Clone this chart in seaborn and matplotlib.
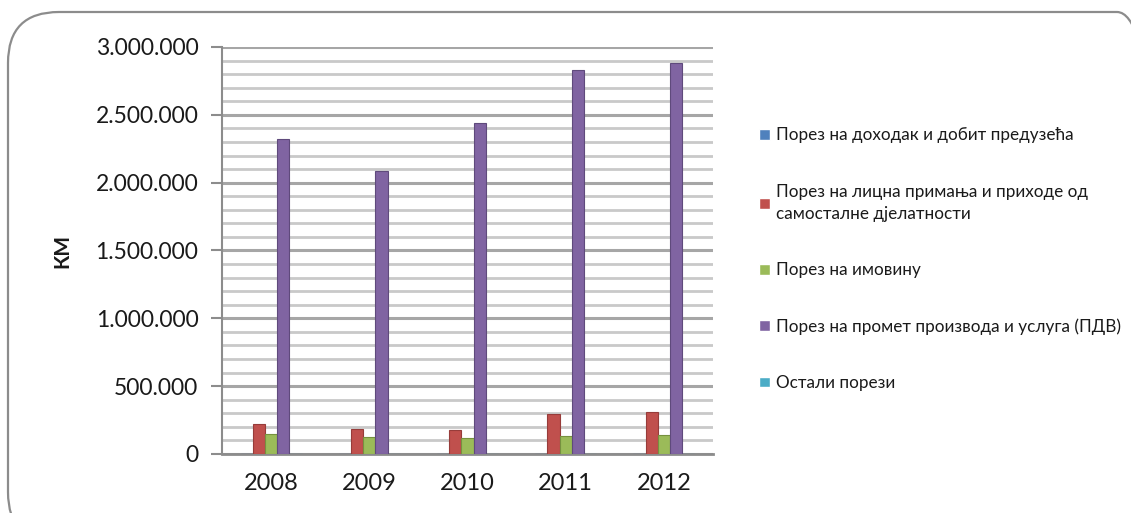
import matplotlib
matplotlib.use("Agg")
import matplotlib.pyplot as plt
import matplotlib.ticker as mticker
from matplotlib.patches import FancyBboxPatch
import seaborn as sns
import pandas as pd

years = ["2008", "2009", "2010", "2011", "2012"]
series = [
    "Порез на доходак и добит предузећа",
    "Порез на лицна примања и приходе од\nсамосталне дјелатности",
    "Порез на имовину",
    "Порез на промет производа и услуга (ПДВ)",
    "Остали порези",
]
income_tax = [0, 0, 0, 0, 0]
personal_tax = [218000, 182000, 180000, 292000, 306000]
property_tax = [145000, 126000, 120000, 133000, 140000]
vat = [2322000, 2084000, 2442000, 2828000, 2884000]
other_tax = [0, 0, 0, 0, 0]
colors = ["#4F81BD", "#C0504D", "#9BBB59", "#8064A2", "#4BACC6"]
edge_colors = ["#3a6494", "#973c3a", "#76913f", "#5f4a7c", "#3a8aa0"]

values = [income_tax, personal_tax, property_tax, vat, other_tax]
rows = []
for s, vals in zip(series, values):
    for y, v in zip(years, vals):
        rows.append({"year": y, "series": s, "value": v})
df = pd.DataFrame(rows)

sns.set_style("white")
plt.rcParams["font.family"] = ["Lato", "DejaVu Sans"]

fig = plt.figure(figsize=(11.31, 5.13), dpi=100)
W, H = 1131, 513

# rounded frame
frame = FancyBboxPatch((8 / W, -30 / H), 1160 / W, 531 / H,
                       boxstyle="round,pad=0,rounding_size=0.045",
                       transform=fig.transFigure, facecolor="none",
                       edgecolor="#8c8c8c", linewidth=1.6, zorder=-5,
                       mutation_aspect=W / H)
fig.patches.append(frame)

ax = fig.add_axes([222 / W, (513 - 454) / H, 491 / W, 407 / H])
ax.set_facecolor("none")
ax.set_zorder(2)

sns.barplot(data=df, x="year", y="value", hue="series", palette=colors,
            width=0.62, ax=ax, legend=True, saturation=1, zorder=3)

for cont, ec in zip(ax.containers, edge_colors):
    for bar in cont:
        bar.set_edgecolor(ec)
        bar.set_linewidth(0.8)

ax.set_ylim(0, 3000000)
ax.yaxis.set_major_locator(mticker.MultipleLocator(500000))
ax.yaxis.set_minor_locator(mticker.MultipleLocator(100000))
ax.yaxis.set_major_formatter(mticker.FuncFormatter(lambda v, p: f"{int(v):,}".replace(",", ".")))
ax.grid(True, axis="y", which="major", color="#a6a6a6", linewidth=2.2, zorder=1)
ax.grid(True, axis="y", which="minor", color="#c9c9c9", linewidth=2.0, zorder=1)
ax.set_axisbelow(True)

for sp in ["top", "right"]:
    ax.spines[sp].set_visible(False)
ax.spines["left"].set_color("#8c8c8c")
ax.spines["left"].set_linewidth(1.5)
ax.spines["bottom"].set_color("#8c8c8c")
ax.spines["bottom"].set_linewidth(2.0)

ax.tick_params(axis="y", which="major", length=8, width=1.5, color="#8c8c8c",
               labelsize=16.5, pad=9, labelcolor="#1a1a1a", left=True)
ax.tick_params(axis="y", which="minor", length=0)
ax.tick_params(axis="x", length=0, labelsize=17, pad=14, labelcolor="#1a1a1a")

ax.set_xlabel("")
ax.set_ylabel("КМ", fontsize=15, fontweight="bold", color="#1a1a1a")
ax.yaxis.set_label_coords(-0.304, 0.5)

handles, labels = ax.get_legend_handles_labels()
ax.get_legend().remove()
leg = fig.legend(handles, labels, loc="upper left", bbox_to_anchor=(744 / W, 1 - 112 / H),
                 frameon=False, fontsize=12.3, handlelength=0.6, handleheight=0.6,
                 handletextpad=0.4, labelspacing=2.35, labelcolor="#1a1a1a")
for t in leg.get_texts():
    t.set_linespacing(1.5)

fig.savefig("out.png", dpi=100)
